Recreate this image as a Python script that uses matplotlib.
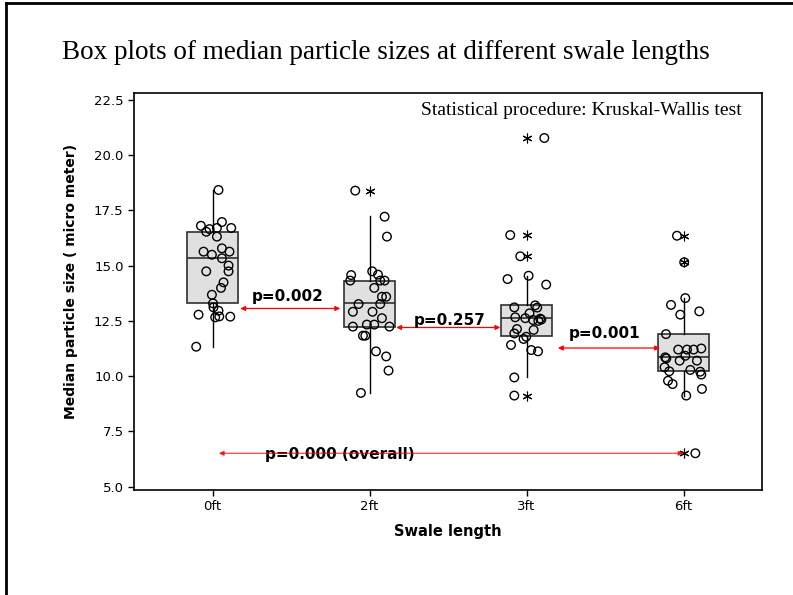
import numpy as np
import matplotlib.pyplot as plt
from matplotlib.lines import Line2D

# ---- data ----
groups = ['0ft', '2ft', '3ft', '6ft']

size_0ft = [18.42, 16.80, 16.65, 16.53, 16.97, 16.70, 16.70, 16.31, 15.63, 15.49,
            15.78, 15.63, 15.33, 15.00, 14.74, 14.74, 14.24, 13.99, 13.68, 13.29,
            13.11, 12.78, 12.96, 12.66, 12.70, 12.69, 11.33]
jit_0ft = [0.038, -0.074, -0.019, -0.040, 0.060, 0.028, 0.119, 0.028, -0.057, -0.004,
           0.060, 0.108, 0.060, 0.102, -0.040, 0.102, 0.070, 0.054, -0.004, 0.003,
           0.006, -0.089, 0.038, 0.017, 0.043, 0.113, -0.104]

size_2ft = [18.39, 17.21, 16.31, 14.57, 14.32, 14.74, 14.59, 14.32, 14.32, 13.99,
            13.59, 13.59, 13.26, 12.91, 12.91, 13.26, 12.62, 12.24, 12.33, 12.33,
            12.24, 11.83, 11.83, 11.12, 10.89, 10.25, 9.24]
jit_2ft = [-0.091, 0.096, 0.111, -0.117, -0.123, 0.017, 0.054, 0.068, 0.096, 0.030,
           0.079, 0.106, -0.070, -0.106, 0.019, 0.068, 0.079, -0.106, -0.017, 0.030,
           0.127, -0.042, -0.027, 0.041, 0.106, 0.121, -0.055]

size_3ft = [20.77, 16.38, 15.42, 9.12, 14.39, 14.54, 14.14, 13.11, 13.20, 13.10,
            12.66, 12.62, 12.84, 12.54, 12.60, 12.50, 12.56, 12.13, 11.93, 12.09,
            11.68, 11.78, 11.41, 11.18, 11.12, 9.94]
jit_3ft = [0.113, -0.104, -0.040, -0.078, -0.121, 0.013, 0.125, -0.078, 0.055, 0.068,
           -0.072, -0.008, 0.019, 0.041, 0.087, 0.075, 0.094, -0.061, -0.078, 0.045,
           -0.019, -0.002, -0.099, 0.030, 0.073, -0.078]

size_6ft = [16.35, 15.15, 6.51, 13.53, 13.22, 12.78, 12.93, 11.90, 11.20, 11.20,
            11.20, 11.25, 10.92, 10.85, 10.80, 10.70, 10.70, 10.40, 10.22, 10.28,
            10.20, 10.07, 9.79, 9.64, 9.42, 9.12]
jit_6ft = [-0.042, 0.004, 0.075, 0.011, -0.080, -0.021, 0.100, -0.112, -0.034, 0.022,
           0.064, 0.113, 0.011, -0.117, -0.110, -0.025, 0.085, -0.121, -0.091, 0.043,
           0.106, 0.113, -0.099, -0.070, 0.117, 0.017]

# box statistics (Minitab)
box_q1 = [13.31, 12.24, 11.80, 10.25]
box_med = [15.33, 13.29, 12.64, 10.85]
box_q3 = [16.53, 14.32, 13.23, 11.90]
whis_lo = [11.33, 9.24, 9.94, 9.12]
whis_hi = [18.42, 17.22, 14.54, 13.53]

pair_labels = ['p=0.002', 'p=0.257', 'p=0.001']
overall_label = 'p=0.000 (overall)'

all_sizes = [size_0ft, size_2ft, size_3ft, size_6ft]
all_jit = [jit_0ft, jit_2ft, jit_3ft, jit_6ft]

fig = plt.figure(figsize=(7.93, 5.95), dpi=100)
ax = fig.add_axes([0.169, 0.1765, 0.792, 0.667])

positions = np.arange(1, len(groups) + 1)
stats = []
for i in range(len(groups)):
    v = np.array(all_sizes[i])
    fl = v[(v < whis_lo[i] - 1e-6) | (v > whis_hi[i] + 1e-6)]
    stats.append(dict(med=box_med[i], q1=box_q1[i], q3=box_q3[i],
                      whislo=whis_lo[i], whishi=whis_hi[i], fliers=fl))

ax.bxp(stats, positions=positions, widths=0.33, patch_artist=True, showcaps=False,
       boxprops=dict(facecolor='#e0e0e0', edgecolor='#303030', linewidth=1.2),
       medianprops=dict(color='#303030', linewidth=1.2),
       whiskerprops=dict(color='black', linewidth=1.0),
       flierprops=dict(marker=(6, 2, 0), markersize=7, markeredgecolor='black',
                       markeredgewidth=0.8, linestyle='none'))

for i in range(len(groups)):
    ax.scatter(positions[i] + np.array(all_jit[i]), all_sizes[i], s=38,
               facecolors='none', edgecolors='black', linewidths=1.0, zorder=4)

# pairwise comparison arrows
arrow_kw = dict(arrowstyle='<|-|>', color='red', lw=0.9, mutation_scale=7,
                shrinkA=0, shrinkB=0)
pair_arrows = [((1.177, 13.06), (1.813, 13.06)),
               ((2.170, 12.20), (2.833, 12.20)),
               ((3.200, 11.27), (3.850, 11.27))]
pair_text = [(1.48, 13.60), (2.51, 12.53), (3.495, 11.95)]
for (a, b), (tx, ty), lab in zip(pair_arrows, pair_text, pair_labels):
    ax.annotate('', xy=b, xytext=a, arrowprops=arrow_kw)
    ax.text(tx, ty, lab, ha='center', va='center', fontsize=11, fontweight='bold')

ax.text(1.81, 6.44, overall_label, ha='center', va='center', fontsize=11,
        fontweight='bold', zorder=3)
ax.annotate('', xy=(4.0, 6.51), xytext=(1.04, 6.51),
            arrowprops=dict(arrow_kw, alpha=0.75), zorder=5)

ax.text(0.967, 0.955, 'Statistical procedure: Kruskal-Wallis test',
        transform=ax.transAxes, ha='right', va='center', fontsize=14,
        family='Liberation Serif')

ax.set_xlim(0.5, 4.5)
ax.set_ylim(4.85, 22.8)
ax.set_yticks(np.arange(5, 22.6, 2.5))
ax.set_yticklabels([f'{t:.1f}' for t in np.arange(5, 22.6, 2.5)])
ax.set_xticks(positions)
ax.set_xticklabels(groups)
ax.tick_params(labelsize=9.5, length=4, width=1)
for sp in ax.spines.values():
    sp.set_linewidth(1.2)

ax.set_xlabel('Swale length', fontsize=10.5, fontweight='bold')
ax.xaxis.set_label_coords(0.5, -0.085)
ax.set_ylabel('Median particle size ( micro meter)', fontsize=10, fontweight='bold')
ax.yaxis.set_label_coords(-0.089, 0.526)

fig.text(0.486, 0.912, 'Box plots of median particle sizes at different swale lengths',
         ha='center', va='center', fontsize=19.5, family='Liberation Serif')

# slide frame
fig.add_artist(Line2D([0.0076, 0.0076], [0, 0.995], color='black', lw=2,
                      transform=fig.transFigure))
fig.add_artist(Line2D([0.0076, 1.0], [0.995, 0.995], color='black', lw=2,
                      transform=fig.transFigure))

fig.savefig('out.png', dpi=100)
